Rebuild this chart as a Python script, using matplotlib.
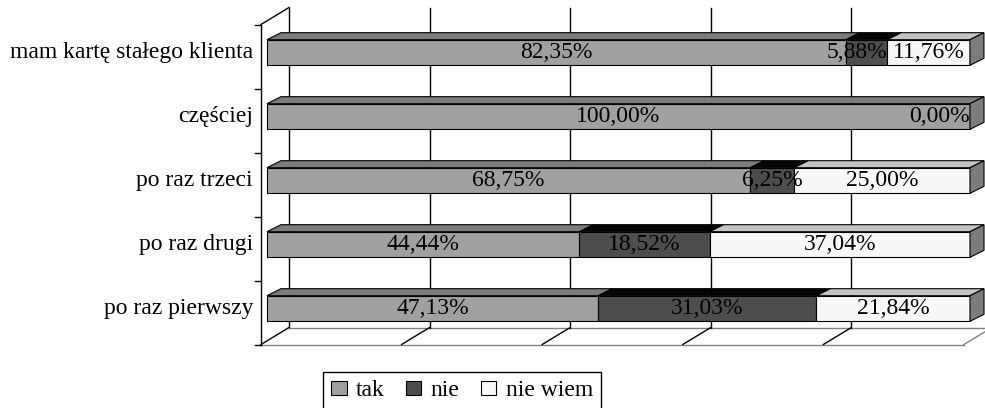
import matplotlib.pyplot as plt
from matplotlib.patches import Polygon, Patch

plt.rcParams['font.family'] = ['Liberation Serif', 'DejaVu Serif']

# dane (od dolu do gory)
kategorie = ['po raz pierwszy', 'po raz drugi', 'po raz trzeci', 'częściej',
             'mam kartę stałego klienta']
tak = [47.13, 44.44, 68.75, 100.00, 82.35]
nie = [31.03, 18.52, 6.25, 0.00, 5.88]
nie_wiem = [21.84, 37.04, 25.00, 0.00, 11.76]
serie = ['tak', 'nie', 'nie wiem']

# kolory: przod, gora
kol_przod = ['#a0a0a0', '#4d4d4d', '#f8f8f8']
kol_gora = ['#7c7c7c', '#050505', '#c4c4c4']
kol_bok = '#7c7c7c'
fs = 17

fig = plt.figure(figsize=(9.85, 4.08), dpi=100)
ax = fig.add_axes([0, 0, 1, 1])
sx, sy = 7.03, 64.0
ax.set_xlim(-267 / sx, (985 - 267) / sx)
ax.set_ylim(-99.5 / sy, 4 + (408 - 355.5) / sy)
ax.axis('off')

# glebokosc 3D (w jednostkach danych)
fx, fy = -6 / sx, -4 / sy          # plaszczyzna przednia
bx, by = fx + 28 / sx, fy + 17 / sy  # tylna sciana
ddx, ddy = 14 / sx, 7 / sy         # glebokosc slupka
h = 0.40
n = len(kategorie)
y0, y1 = -0.5, n - 0.5

# sciany i podloga
ax.plot([fx, fx], [y0 + fy, y1 + fy], color='black', lw=1, zorder=1)
ax.plot([fx, bx], [y1 + fy, y1 + by], color='black', lw=1, zorder=1)
ax.plot([bx, bx], [y0 + by, y1 + by], color='black', lw=1, zorder=1)
ax.plot([fx, 100 + fx], [y0 + fy, y0 + fy], color='#808080', lw=1, zorder=1)
ax.plot([bx, 100 + bx], [y0 + by, y0 + by], color='#808080', lw=1, zorder=1)
for v in range(0, 101, 20):
    c = '#808080' if v == 100 else 'black'
    ax.plot([v + fx, v + bx], [y0 + fy, y0 + by], color=c, lw=1, zorder=1)
    if 0 < v < 100:
        ax.plot([v + bx, v + bx], [y0 + by, y1 + by], color='black', lw=1, zorder=1)
for k in range(n + 1):
    ax.plot([fx - 6 / sx, fx], [k - 0.5 + fy, k - 0.5 + fy], color='black', lw=1, zorder=1)

# slupki
for i in range(n):
    vals = [tak[i], nie[i], nie_wiem[i]]
    left = 0
    etykiety = {}
    for j, w in enumerate(vals):
        ax.barh(i, w, left=left, height=h, color=kol_przod[j], edgecolor='black',
                lw=0.8, zorder=3)
        txt = ('%.2f%%' % w).replace('.', ',')
        if w > 0:
            top = i + h / 2
            ax.add_patch(Polygon([(left, top), (left + w, top), (left + w + ddx, top + ddy),
                                  (left + ddx, top + ddy)], closed=True,
                                 facecolor=kol_gora[j], edgecolor='black', lw=0.8, zorder=3))
            if w < 6:
                etykiety[left + w] = (txt, 'right')
            else:
                etykiety[left + w / 2] = (txt, 'center')
        else:
            etykiety[left] = (txt, 'right')
        left += w
    ax.add_patch(Polygon([(left, i - h / 2), (left, i + h / 2), (left + ddx, i + h / 2 + ddy),
                          (left + ddx, i - h / 2 + ddy)], closed=True,
                         facecolor=kol_bok, edgecolor='black', lw=0.8, zorder=3))
    for xpos, (txt, ha) in etykiety.items():
        ax.text(xpos, i, txt, ha=ha, va='center', fontsize=fs, zorder=5)
    ax.text(-14 / sx, i, kategorie[i], ha='right', va='center', fontsize=fs)

uchwyty = [Patch(facecolor=kol_przod[j], edgecolor='black', lw=0.8, label=serie[j])
           for j in range(3)]
fig.legend(handles=uchwyty, loc='upper left', bbox_to_anchor=(323 / 985, 1 - 372 / 408),
           ncol=3, fontsize=fs, frameon=True, fancybox=False, edgecolor='black',
           framealpha=1, handlelength=0.65, handleheight=0.55, handletextpad=0.4,
           columnspacing=0.9, borderaxespad=0, borderpad=0.35)

fig.savefig('out.png', dpi=100)
